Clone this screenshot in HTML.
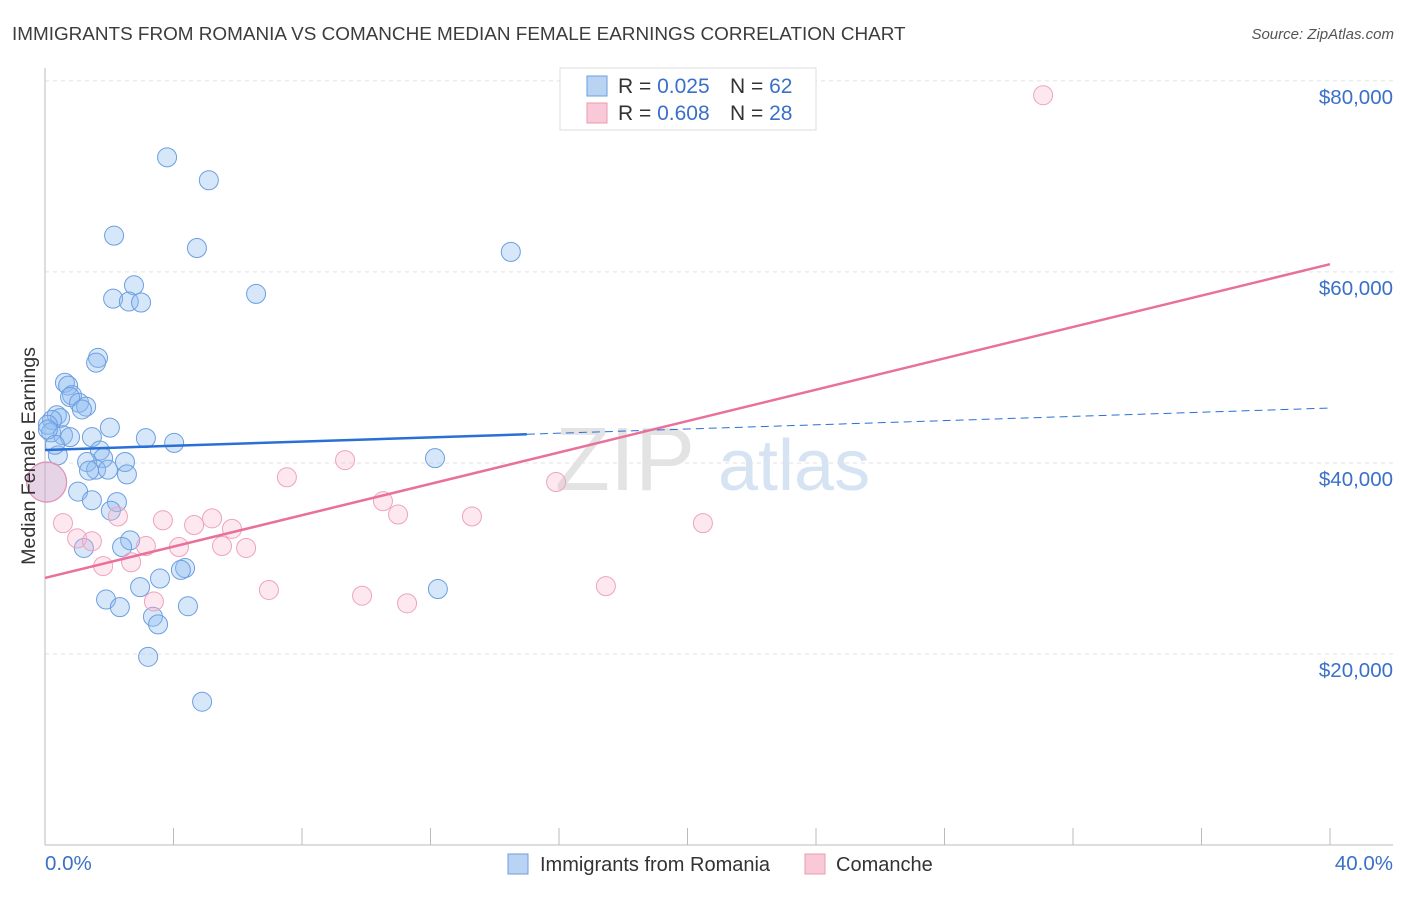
<!DOCTYPE html>
<html><head><meta charset="utf-8"><style>
body{margin:0;background:#fff;font-family:"Liberation Sans",sans-serif;}
svg text{font-family:"Liberation Sans",sans-serif;}
</style></head><body>
<svg width="1406" height="892" viewBox="0 0 1406 892">
<text x="12" y="40" font-size="18.9" fill="#3c3c3c">IMMIGRANTS FROM ROMANIA VS COMANCHE MEDIAN FEMALE EARNINGS CORRELATION CHART</text>
<text x="1394" y="39" font-size="15" fill="#555" font-style="italic" text-anchor="end">Source: ZipAtlas.com</text>
<g id="grid"></g>
<g id="axes"></g>
<text x="555" y="490" font-size="90" fill="#e3e3e3" font-family="Liberation Serif">ZIP</text>
<text x="718" y="490" font-size="72" fill="#d6e3f3">atlas</text>
<g id="pts"></g>
<g id="lines"></g>
<text x="35" y="456" font-size="19.6" fill="#333" text-anchor="middle" transform="rotate(-90 35 456)">Median Female Earnings</text>
<text x="45" y="870" font-size="20.5" fill="#3a70c8">0.0%</text>
<text x="1393" y="870" font-size="20.5" fill="#3a70c8" text-anchor="end">40.0%</text>
<g>
<rect x="560" y="68" width="256" height="62" fill="#fff" stroke="#ddd"/>
<rect x="587" y="76" width="20" height="20" fill="#b9d4f3" stroke="#6b9ee0"/>
<rect x="587" y="103" width="20" height="20" fill="#f9c9d8" stroke="#ec9ab4"/>
<text x="618" y="93" font-size="21" fill="#333">R = <tspan fill="#3a70c8">0.025</tspan></text>
<text x="730" y="93" font-size="21" fill="#333">N = <tspan fill="#3a70c8">62</tspan></text>
<text x="618" y="120" font-size="21" fill="#333">R = <tspan fill="#3a70c8">0.608</tspan></text>
<text x="730" y="120" font-size="21" fill="#333">N = <tspan fill="#3a70c8">28</tspan></text>
</g>
<g>
<rect x="508" y="854" width="20" height="20" fill="#b9d4f3" stroke="#6b9ee0"/>
<text x="540" y="871" font-size="20" fill="#333">Immigrants from Romania</text>
<rect x="805" y="854" width="20" height="20" fill="#f9c9d8" stroke="#ec9ab4"/>
<text x="836" y="871" font-size="20" fill="#333">Comanche</text>
</g>
</svg>
<script>
const yTicks=[20000,40000,60000,80000];
const yTickLabels=["$20,000","$40,000","$60,000","$80,000"];
const xTicks=[0,4,8,12,16,20,24,28,32,36,40];
const blueX=[3.80,5.10,2.15,4.73,14.5,2.77,2.12,2.61,2.99,6.57,1.65,1.59,0.62,0.72,0.84,0.78,1.06,1.28,1.15,0.37,0.47,0.22,0.09,0.19,0.56,0.78,1.46,2.02,3.14,4.02,0.40,1.71,1.81,1.31,2.49,1.59,1.96,2.55,1.37,12.14,1.03,1.46,2.24,2.05,2.65,2.40,1.21,4.36,4.23,3.58,2.96,12.23,1.90,2.33,4.45,3.36,3.52,3.21,4.89,0.09,0.31];
const blueY=[72000,69600,63800,62500,62100,58600,57200,56900,56800,57700,51000,50500,48400,48100,47100,46900,46300,45900,45600,45000,44700,44500,44000,43200,42900,42700,42700,43700,42600,42100,40800,41300,40500,40100,40100,39300,39300,38800,39200,40500,37000,36100,35900,35000,31900,31200,31100,29000,28800,27900,27000,26800,25700,24900,25000,23900,23100,19700,15000,43500,41900];
const pinkX=[31.07,9.34,7.53,15.91,10.52,10.99,13.29,0.56,2.27,3.67,5.20,4.64,5.82,20.48,1.00,1.46,3.14,4.17,5.51,6.26,2.68,1.81,6.97,17.46,9.87,11.27,3.39];
const pinkY=[78500,40300,38500,38000,36000,34600,34400,33700,34400,34000,34200,33500,33100,33700,32100,31800,31300,31200,31300,31100,29600,29200,26700,27100,26100,25300,25500];
const bigX=[0.05], bigY=[38000];
const blueTrend=[41360,45750], pinkTrend=[27960,60810];
const X=v=>45+v*32.125, Y=v=>845-v/104.7;
const NS="http://www.w3.org/2000/svg";
function mk(tag,attrs,parent){const e=document.createElementNS(NS,tag);for(const k in attrs)e.setAttribute(k,attrs[k]);parent.appendChild(e);return e;}
const grid=document.getElementById('grid'),axes=document.getElementById('axes'),pts=document.getElementById('pts'),lines=document.getElementById('lines');
yTicks.forEach((t,i)=>{
 const l=mk('line',{x1:45,x2:1393,y1:Y(t),y2:Y(t),stroke:'#e2e2e2','stroke-dasharray':'4 4'},grid);
 
 
 const tx=mk('text',{x:1393,y:Y(t)+23,'font-size':20.5,fill:'#3a70c8','text-anchor':'end'},grid);
 tx.textContent=yTickLabels[i];
 
 
});
const al=mk('line',{x1:45,x2:45,y1:68,y2:845,stroke:'#bbb'},axes);


const bl=mk('line',{x1:45,x2:1393,y1:845,y2:845,stroke:'#bbb'},axes);


xTicks.forEach(t=>{const l=mk('line',{x1:X(t),x2:X(t),y1:828,y2:845,stroke:'#bbb'},axes);
 
 });
blueX.forEach((x,i)=>{const c=mk('circle',{cx:X(x),cy:Y(blueY[i]),r:9.5,fill:'rgba(140,185,240,0.35)',stroke:'#6c9fe0','stroke-width':1},pts);
 
 });
pinkX.forEach((x,i)=>{const c=mk('circle',{cx:X(x),cy:Y(pinkY[i]),r:9.5,fill:'rgba(248,180,205,0.3)',stroke:'#eea3bc','stroke-width':1},pts);
 
 });
bigX.forEach((x,i)=>{const c=mk('circle',{cx:X(x),cy:Y(bigY[i]),r:20,fill:'rgba(205,170,205,0.5)',stroke:'#e095b8','stroke-width':1.3},pts);
 
 });
const bAt=x=>blueTrend[0]+(blueTrend[1]-blueTrend[0])*x/40;
const b1=mk('line',{x1:X(0),y1:Y(bAt(0)),x2:X(15),y2:Y(bAt(15)),stroke:'#2a6fd6','stroke-width':2.5},lines);


const b2=mk('line',{x1:X(15),y1:Y(bAt(15)),x2:X(40),y2:Y(bAt(40)),stroke:'#2a6fd6','stroke-width':1,'stroke-dasharray':'8 5'},lines);


const p1=mk('line',{x1:X(0),y1:Y(pinkTrend[0]),x2:X(40),y2:Y(pinkTrend[1]),stroke:'#e8709a','stroke-width':2.5},lines);


</script>
</body></html>
